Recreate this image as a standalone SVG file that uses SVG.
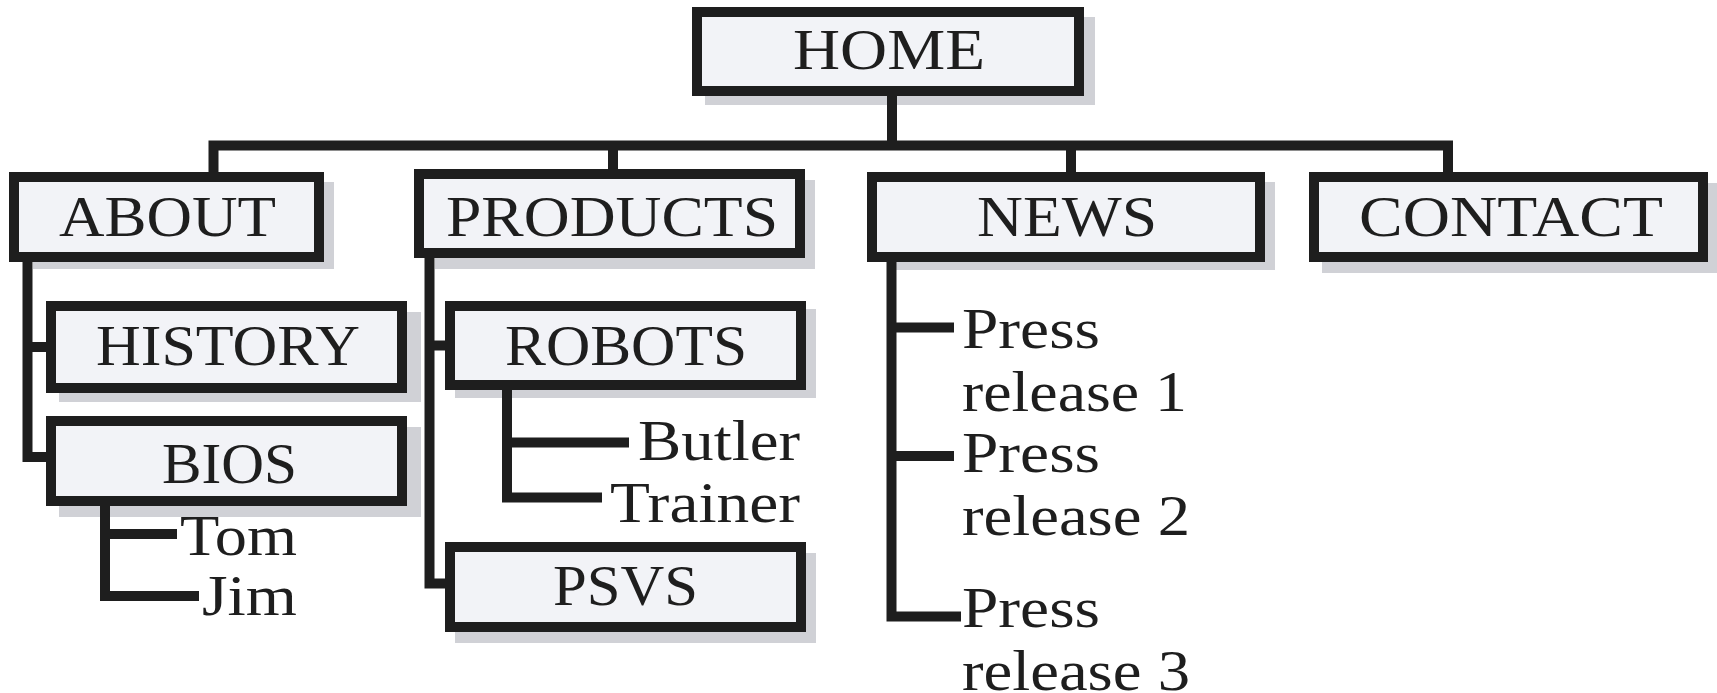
<svg xmlns="http://www.w3.org/2000/svg" width="1717" height="693" viewBox="0 0 1717 693">
<style>
.sh{fill:#d0d1d6;}
.bx{fill:#f2f3f7;stroke:#1e1e1e;stroke-width:10;}
.t{font-family:"Liberation Serif","Times New Roman",serif;font-size:56px;fill:#1e1e1e;}
.c{fill:none;stroke:#1e1e1e;stroke-width:10;stroke-linejoin:miter;stroke-linecap:butt;}
</style>
<rect width="1717" height="693" fill="#ffffff"/>
<g id="home"><rect class="sh" x="705" y="17" width="390" height="88"/><rect class="bx" x="697" y="12" width="382" height="79"/><text class="t" x="793" y="69" textLength="192" lengthAdjust="spacingAndGlyphs">HOME</text></g>
<g id="about"><rect class="sh" x="33" y="182" width="301" height="87"/><rect class="bx" x="14" y="177" width="305" height="80"/><text class="t" x="59" y="236" textLength="217" lengthAdjust="spacingAndGlyphs">ABOUT</text></g>
<g id="products"><rect class="sh" x="435" y="180" width="380" height="89"/><rect class="bx" x="419" y="174" width="381" height="79"/><text class="t" x="446" y="236" textLength="332" lengthAdjust="spacingAndGlyphs">PRODUCTS</text></g>
<g id="news"><rect class="sh" x="896" y="182" width="379" height="88"/><rect class="bx" x="872" y="177" width="388" height="80"/><text class="t" x="977" y="236" textLength="180" lengthAdjust="spacingAndGlyphs">NEWS</text></g>
<g id="contact"><rect class="sh" x="1322" y="183" width="395" height="90"/><rect class="bx" x="1314" y="177" width="389" height="80"/><text class="t" x="1359" y="236" textLength="304" lengthAdjust="spacingAndGlyphs">CONTACT</text></g>
<g id="history"><rect class="sh" x="59" y="312" width="362" height="90"/><rect class="bx" x="51" y="306" width="351" height="82"/><text class="t" x="96" y="365" textLength="264" lengthAdjust="spacingAndGlyphs">HISTORY</text></g>
<g id="bios"><rect class="sh" x="59" y="427" width="362" height="90"/><rect class="bx" x="51" y="421" width="351" height="80"/><text class="t" x="162" y="483" textLength="135" lengthAdjust="spacingAndGlyphs">BIOS</text></g>
<g id="robots"><rect class="sh" x="455" y="309" width="361" height="89"/><rect class="bx" x="450" y="306" width="351" height="79"/><text class="t" x="505" y="365" textLength="242" lengthAdjust="spacingAndGlyphs">ROBOTS</text></g>
<g id="psvs"><rect class="sh" x="455" y="553" width="361" height="90"/><rect class="bx" x="450" y="547" width="351" height="80"/><text class="t" x="553" y="605" textLength="145" lengthAdjust="spacingAndGlyphs">PSVS</text></g>
<g id="tom"><text class="t" x="180" y="555" textLength="117" lengthAdjust="spacingAndGlyphs">Tom</text></g>
<g id="jim"><text class="t" x="202" y="615" textLength="95" lengthAdjust="spacingAndGlyphs">Jim</text></g>
<g id="butler"><text class="t" x="638" y="460" textLength="162" lengthAdjust="spacingAndGlyphs">Butler</text></g>
<g id="trainer"><text class="t" x="610" y="522" textLength="190" lengthAdjust="spacingAndGlyphs">Trainer</text></g>
<g id="press1"><text class="t" x="962" y="348" textLength="138" lengthAdjust="spacingAndGlyphs">Press</text><text class="t" x="962" y="411" textLength="225" lengthAdjust="spacingAndGlyphs">release 1</text></g>
<g id="press2"><text class="t" x="962" y="472" textLength="138" lengthAdjust="spacingAndGlyphs">Press</text><text class="t" x="962" y="535" textLength="228" lengthAdjust="spacingAndGlyphs">release 2</text></g>
<g id="press3"><text class="t" x="962" y="627" textLength="138" lengthAdjust="spacingAndGlyphs">Press</text><text class="t" x="962" y="690" textLength="228" lengthAdjust="spacingAndGlyphs">release 3</text></g>
<g id="connectors">
<path class="c" d="M892,95 V145.5"/>
<path class="c" d="M213.5,173 V145.5 H1448 V173"/>
<path class="c" d="M613,145.5 V170"/>
<path class="c" d="M1071,145.5 V173"/>
<path class="c" d="M27.5,261 V457 H47"/>
<path class="c" d="M27.5,347 H47"/>
<path class="c" d="M105,505 V596 H199"/>
<path class="c" d="M105,534 H177"/>
<path class="c" d="M429.5,257 V583.5 H446"/>
<path class="c" d="M429.5,345.5 H446"/>
<path class="c" d="M507,389 V497.5 H602"/>
<path class="c" d="M507,442.5 H629"/>
<path class="c" d="M891.5,261 V616.5 H961"/>
<path class="c" d="M891.5,327.5 H954"/>
<path class="c" d="M891.5,456 H954"/>
</g>
</svg>
